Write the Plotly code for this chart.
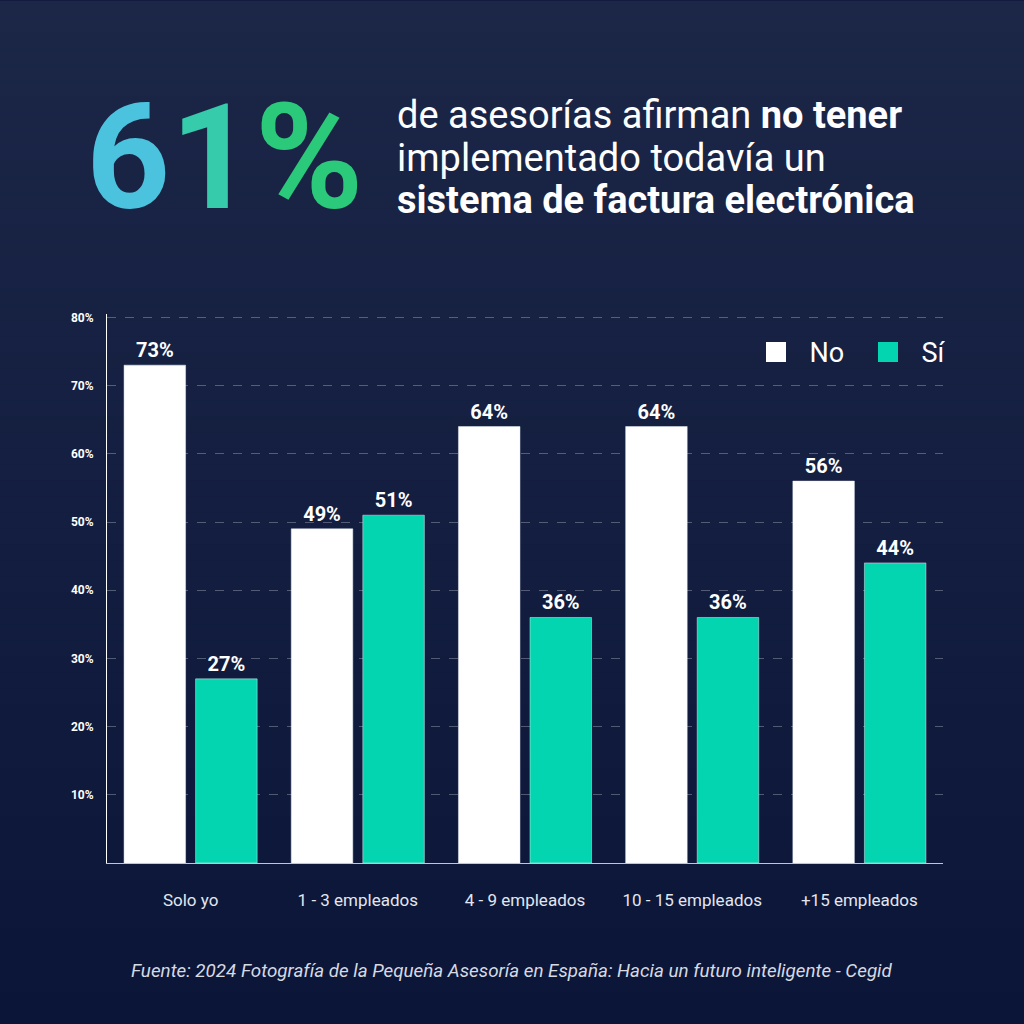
import plotly.graph_objects as go

categories = ["Solo yo", "1 - 3 empleados", "4 - 9 empleados", "10 - 15 empleados", "+15 empleados"]
no_values = [73, 49, 64, 64, 56]
si_values = [27, 51, 36, 36, 44]
series_names = ["No", "Sí"]
y_ticks = [10, 20, 30, 40, 50, 60, 70, 80]

W, H = 1024, 1024
Y_MAX = 80.5
L, R, B = 107, 943, 863  # plot area in px
T = B - (B - 317) * Y_MAX / 80


def px(x):
    return (x - L) / (R - L)


def py(y):
    return (B - y) / (B - T)


label_font = dict(family="Roboto", size=20, color="#ffffff", weight="bold")

fig = go.Figure()
fig.add_trace(go.Bar(
    x=categories, y=no_values, name=series_names[0], marker_color="#ffffff",
    text=[f"{v}%" for v in no_values], textposition="outside", textfont=label_font,
    cliponaxis=False, showlegend=False,
))
fig.add_trace(go.Bar(
    x=categories, y=si_values, name=series_names[1], marker_color="#02d5b0",
    text=[f"{v}%" for v in si_values], textposition="outside", textfont=label_font,
    cliponaxis=False, showlegend=False,
))
# legend entries with square markers
for nm, col in zip(series_names, ["#ffffff", "#02d5b0"]):
    fig.add_trace(go.Scatter(x=[None], y=[None], mode="markers", name="  " + nm,
                             marker=dict(symbol="square", size=16, color=col,
                                         line=dict(width=4, color=col))))

# background gradient bands
top = (0x1c, 0x27, 0x48)
bot = (0x0b, 0x15, 0x38)
n = 64
shapes = []
for i in range(n):
    t = i / (n - 1)
    c = tuple(round(top[k] + (bot[k] - top[k]) * t) for k in range(3))
    ya = H * i / n
    yb = H * (i + 1) / n + 1
    shapes.append(dict(type="rect", xref="paper", yref="paper", layer="below",
                       x0=px(0), x1=px(W), y0=py(yb), y1=py(ya),
                       line=dict(width=0), fillcolor="rgb(%d,%d,%d)" % c))

head_font = dict(family="Roboto", size=38, color="#ffffff")
annotations = [
    dict(x=px(84), y=py(157), xref="paper", yref="paper", xanchor="left", yanchor="middle",
         showarrow=False,
         text='<span style="color:#4cc3de">6</span><span style="color:#36cbaa">1</span><span style="color:#2bc97a">%</span>',
         font=dict(family="Roboto", size=147, weight="bold")),
    dict(x=px(395), y=py(114), xref="paper", yref="paper", xanchor="left", yanchor="middle",
         showarrow=False, text="de asesorías afirman <b>no tener</b>", font=head_font),
    dict(x=px(395), y=py(157), xref="paper", yref="paper", xanchor="left", yanchor="middle",
         showarrow=False, text="implementado todavía un", font=head_font),
    dict(x=px(395), y=py(200), xref="paper", yref="paper", xanchor="left", yanchor="middle",
         showarrow=False, text="<b>sistema de factura electrónica</b>", font=head_font),
    dict(x=px(512), y=py(971), xref="paper", yref="paper", xanchor="center", yanchor="middle",
         showarrow=False,
         text="<i>Fuente: 2024 Fotografía de la Pequeña Asesoría en España: Hacia un futuro inteligente - Cegid</i>",
         font=dict(family="Roboto", size=18.8, color="#d6dae2")),
]

fig.update_layout(
    width=W, height=H,
    margin=dict(l=L, r=W - R, t=T, b=H - B, pad=0, autoexpand=False),
    paper_bgcolor="#111a3d", plot_bgcolor="rgba(0,0,0,0)",
    barmode="group", bargap=0.144, bargroupgap=0.14,
    shapes=shapes,
    annotations=annotations,
    legend=dict(orientation="h", x=px(756), xanchor="left", y=py(352), yanchor="middle",
                font=dict(family="Roboto", size=27, color="#ffffff"),
                bgcolor="rgba(0,0,0,0)", itemwidth=30, entrywidth=67, entrywidthmode="pixels"),
    font=dict(family="Roboto", color="#ffffff"),
)
fig.update_yaxes(range=[0, Y_MAX], tickvals=y_ticks, ticktext=[f"{v}%" for v in y_ticks],
                 tickfont=dict(family="Roboto", size=12, color="#ffffff", weight="bold"),
                 showgrid=True, gridcolor="rgba(255,255,255,0.28)", griddash="dash", gridwidth=1,
                 showline=True, linecolor="#ffffff", linewidth=1, ticks="", ticklabelstandoff=10,
                 zeroline=False)
fig.update_xaxes(tickfont=dict(family="Roboto", size=17, color="#e2e6ee"),
                 showline=True, linecolor="#c0c6d2", linewidth=1, ticks="", ticklabelstandoff=22)

fig.write_html("out.html", config={"displayModeBar": False},
               post_script="document.body.style.margin='0';document.body.style.overflow='hidden';")
